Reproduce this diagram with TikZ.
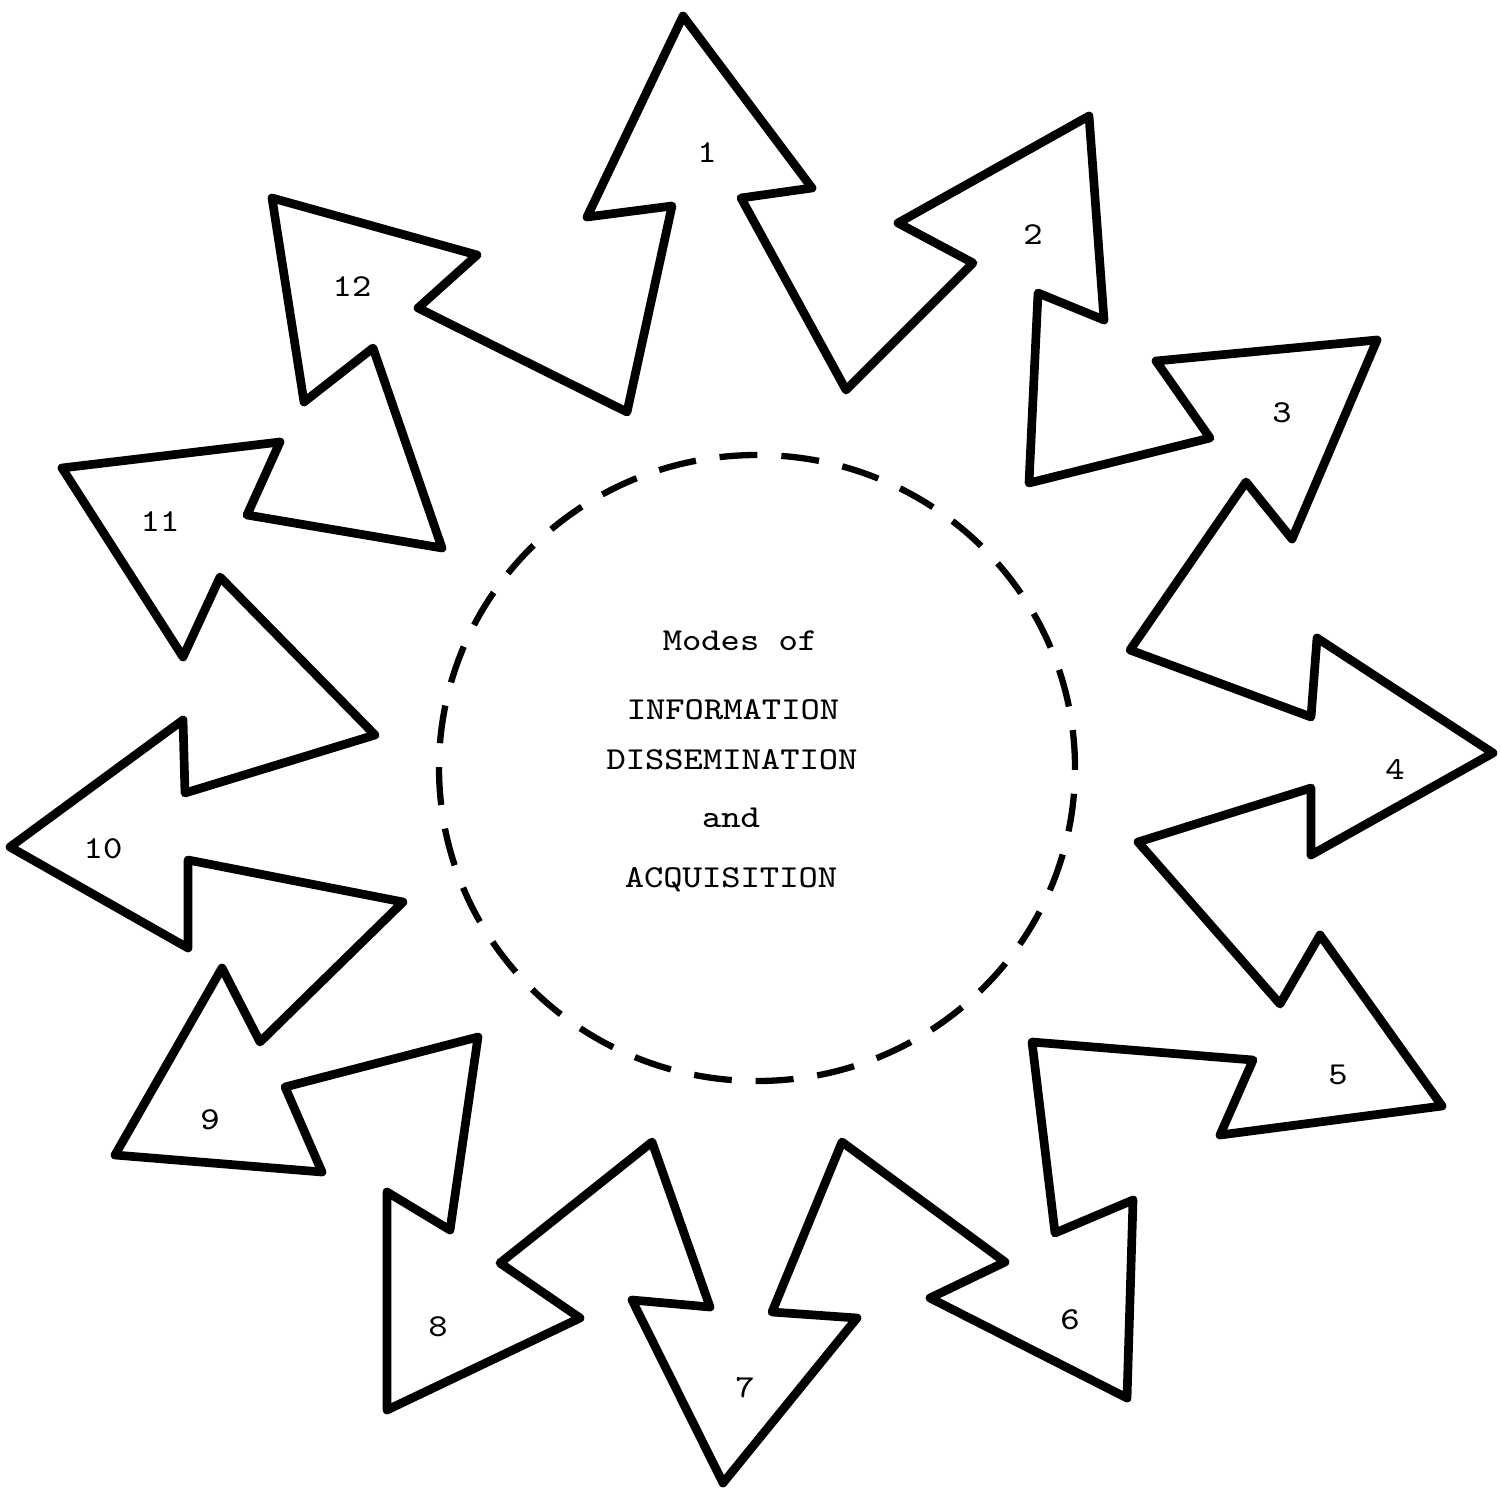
\documentclass[tikz,border=0pt]{standalone}
\usepackage{fontspec}
\usepackage{tikz}
\newcommand{\stretchtt}[1]{\scalebox{1.15}[1]{#1}}

\begin{document}
\begin{tikzpicture}[x=0.1mm,y=-0.1mm,
  star/.style={line width=0.87mm,line join=round},
  ring/.style={line width=0.63mm,dash pattern=on 3.8mm off 2.39mm},
  txt/.style={font=\ttfamily\fontsize{9.1}{11}\selectfont,inner sep=0pt}]
  \useasboundingbox (0,0) rectangle (1501,1492);
  \draw[star] (683,16) -- (812,188) -- (741,198) -- (846,390)
    -- (973,263) -- (898,223) -- (1089,116) -- (1104,320) -- (1038,293) -- (1029,483)
    -- (1210,438) -- (1156,361) -- (1377,340) -- (1292,539) -- (1246,482) -- (1130,650)
    -- (1311,717) -- (1317,638) -- (1493,753) -- (1311,855) -- (1311,788) -- (1138,842)
    -- (1280,1004) -- (1320,935) -- (1442,1106) -- (1220,1135) -- (1253,1060) -- (1032,1042)
    -- (1055,1233) -- (1133,1200) -- (1127,1398) -- (930,1298) -- (1005,1262) -- (842,1142)
    -- (772,1312) -- (857,1318) -- (723,1483) -- (632,1300) -- (710,1307) -- (652,1142)
    -- (500,1263) -- (580,1318) -- (387,1410) -- (387,1192) -- (450,1230) -- (478,1037)
    -- (285,1087) -- (322,1172) -- (115,1155) -- (222,968) -- (260,1042) -- (403,902)
    -- (188,860) -- (188,948) -- (10,847) -- (183,720) -- (185,793) -- (375,735)
    -- (220,577) -- (183,657) -- (62,468) -- (280,442) -- (247,515) -- (442,548)
    -- (373,348) -- (304,402) -- (272,198) -- (477,255) -- (418,308) -- (627,412)
    -- (672,206) -- (587,217) -- cycle;
  \draw[ring] (757,768) ellipse [x radius=31.8mm, y radius=31.3mm];

  \node[txt,anchor=base] (modes) at (740,650) {\stretchtt{Modes of}};
  \node[txt,anchor=base] (info)  at (733,719) {\stretchtt{INFORMATION}};
  \node[txt,anchor=base] (diss)  at (732,769) {\stretchtt{DISSEMINATION}};
  \node[txt,anchor=base] (and)   at (731,827) {\stretchtt{and}};
  \node[txt,anchor=base] (acq)   at (731,887) {\stretchtt{ACQUISITION}};

  \node[txt] (n1)  at (707,153)  {\stretchtt{1}};
  \node[txt] (n2)  at (1033,235) {\stretchtt{2}};
  \node[txt] (n3)  at (1282,413) {\stretchtt{3}};
  \node[txt] (n4)  at (1395,770) {\stretchtt{4}};
  \node[txt] (n5)  at (1338,1075) {\stretchtt{5}};
  \node[txt] (n6)  at (1070,1320) {\stretchtt{6}};
  \node[txt] (n7)  at (745,1388) {\stretchtt{7}};
  \node[txt] (n8)  at (438,1327) {\stretchtt{8}};
  \node[txt] (n9)  at (210,1120) {\stretchtt{9}};
  \node[txt] (n10) at (103,849)  {\stretchtt{10}};
  \node[txt] (n11) at (160,522)  {\stretchtt{11}};
  \node[txt] (n12) at (352,287)  {\stretchtt{12}};
\end{tikzpicture}
\end{document}
